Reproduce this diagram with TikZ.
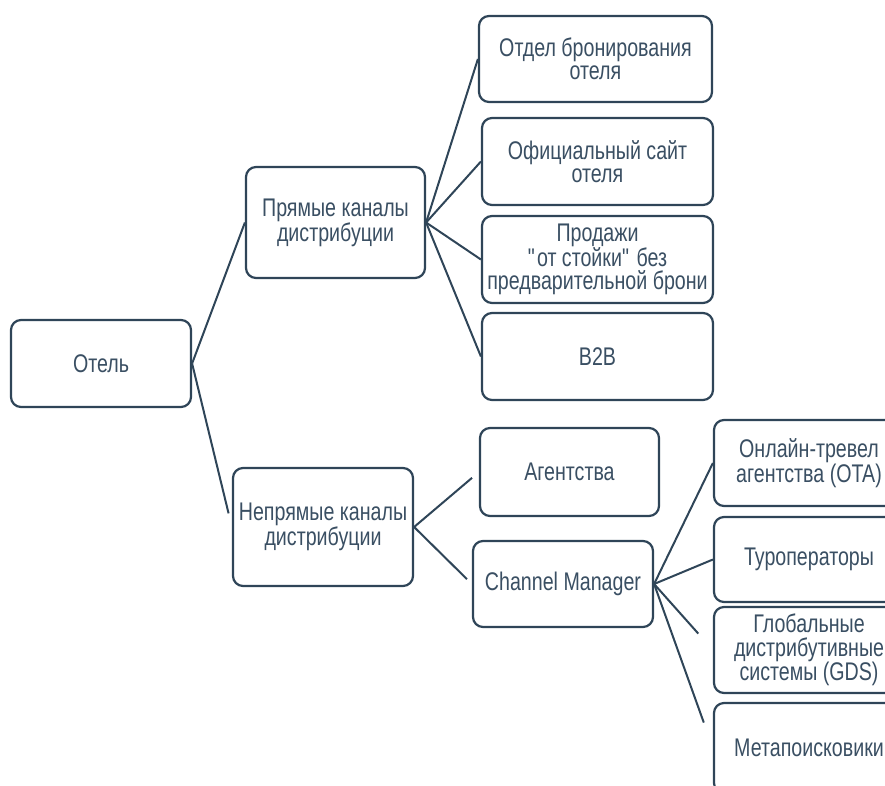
\documentclass[tikz,border=0pt]{standalone}
\usepackage{fontspec}
\setmainfont[FakeStretch=0.77]{Liberation Sans}
\colorlet{background}{white}
\definecolor{penColor}{HTML}{2F4558}
\definecolor{textColor}{HTML}{3A4F63}
\tikzset{
  box/.style={draw=penColor, line width=2.2pt, rounded corners=10pt, fill=background,
    text=textColor, align=center, inner sep=0pt,
    font=\fontsize{25.5}{23.5}\selectfont},
  link/.style={draw=penColor, line width=2pt}
}

\begin{document}
\begin{tikzpicture}[x=1pt,y=-1pt]
    \useasboundingbox (0,0) rectangle (885,785);
    \clip (0,0) rectangle (885,785);
      % first levels
      \node[box, minimum width=180, minimum height=87] (hotel) at (101,363.5) {Отель};
      \node[box, minimum width=179, minimum height=111] (direct) at (335.5,222.5) {Прямые каналы\\дистрибуции};
      \node[box, minimum width=180, minimum height=118] (indirect) at (323,527) {Непрямые каналы\\дистрибуции};
      % direct channels
      \node[box, minimum width=233, minimum height=86] (dept) at (595.5,59) {Отдел бронирования\\отеля};
      \node[box, minimum width=231, minimum height=87] (site) at (597.5,161.5) {Официальный сайт\\отеля};
      \node[box, minimum width=231, minimum height=87] (desk) at (597.5,259.5) {Продажи\\\textquotedbl от стойки\textquotedbl{} без\\предварительной брони};
      \node[box, minimum width=231, minimum height=87] (btob) at (597.5,356.5) {B2B};
      % indirect channels
      \node[box, minimum width=179, minimum height=88] (agency) at (569.5,472) {Агентства};
      \node[box, minimum width=180, minimum height=86] (cm) at (563,584) {Channel Manager};
      \node[box, minimum width=190, minimum height=86] (ota) at (809,463) {Онлайн-тревел\\агентства (OTA)};
      \node[box, minimum width=190, minimum height=85] (tour) at (809,559.5) {Туроператоры};
      \node[box, minimum width=190, minimum height=86] (gds) at (809,650) {Глобальные\\дистрибутивные\\системы (GDS)};
      \node[box, minimum width=190, minimum height=90] (meta) at (809,748) {Метапоисковики};
      % connectors
      \draw[link] (hotel.east) -- (direct.west);
      \draw[link, shorten >=14pt] (hotel.east) -- (indirect.west);
      \draw[link] (direct.east) -- (dept.west);
      \draw[link] (direct.east) -- (site.west);
      \draw[link] (direct.east) -- (desk.west);
      \draw[link] (direct.east) -- (btob.west);
      \draw[link, shorten >=9pt] (indirect.east) -- (agency.west);
      \draw[link, shorten >=7pt] (indirect.east) -- (cm.west);
      \draw[link] (cm.east) -- (ota.west);
      \draw[link] (cm.east) -- (tour.west);
      \draw[link, shorten >=22pt] (cm.east) -- (gds.west);
      \draw[link, shorten >=27pt] (cm.east) -- (meta.west);
    \end{tikzpicture}
\end{document}
